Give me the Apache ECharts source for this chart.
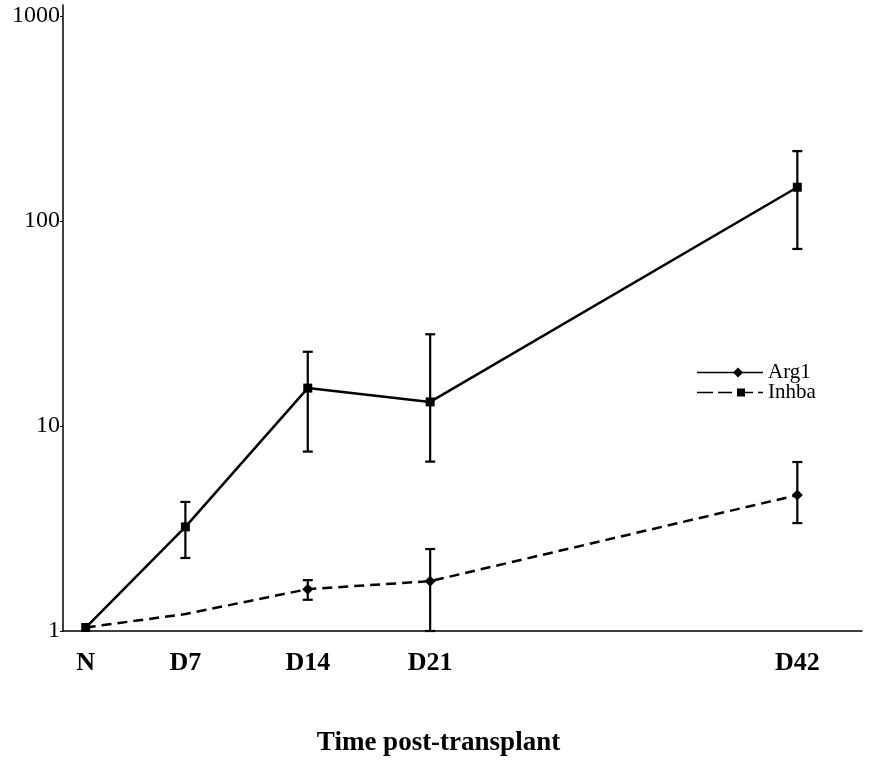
<!DOCTYPE html>
<html>
<head>
<meta charset="utf-8">
<script src="https://cdn.jsdelivr.net/npm/echarts@6/dist/echarts.min.js"></script>
<style>
  html, body { margin: 0; padding: 0; background: #fff; }
  #chart { width: 876px; height: 766px; }
</style>
</head>
<body>
<div id="chart"></div>
<script>
// Time points (days post-transplant; N = normal, placed just after day 0)
const days = [1.3, 7, 14, 21, 42];
const dayLabels = ['N', 'D7', 'D14', 'D21', 'D42'];

// Arg1 fold change (solid line) with error range
const arg1Mean = [1.04, 3.22, 15.3, 13.1, 146];
const arg1Low  = [null, 2.27, 7.5, 6.7, 73];
const arg1High = [null, 4.26, 23, 28, 219];

// Inhba fold change (dashed line) with error range
const inhbaMean = [1.04, 1.21, 1.60, 1.75, 4.6];
const inhbaLow  = [null, null, 1.42, 1.0, 3.36];
const inhbaHigh = [null, null, 1.77, 2.51, 6.67];

const yTicks = [1, 10, 100, 1000];

const serif = 'Liberation Serif';

function pairs(xs, ys) { return xs.map((x, i) => [x, ys[i]]); }
function ranges(xs, lo, hi) {
  const out = [];
  xs.forEach((x, i) => { if (lo[i] != null && hi[i] != null) out.push([x, lo[i], hi[i]]); });
  return out;
}

// vertical error bar with flat caps
function errorBar(params, api) {
  const x = api.value(0);
  const lo = api.coord([x, api.value(1)]);
  const hi = api.coord([x, api.value(2)]);
  const half = 5;
  const style = { stroke: '#000', lineWidth: 2.2, fill: null };
  return {
    type: 'group',
    children: [
      { type: 'line', shape: { x1: lo[0], y1: lo[1], x2: hi[0], y2: hi[1] }, style },
      { type: 'line', shape: { x1: hi[0] - half, y1: hi[1], x2: hi[0] + half, y2: hi[1] }, style },
      { type: 'line', shape: { x1: lo[0] - half, y1: lo[1], x2: lo[0] + half, y2: lo[1] }, style }
    ]
  };
}

// legend keys: solid line with diamond, dashed line with square
const arg1Icon = 'path://M0,4.3 L66,4.3 L66,5.7 L0,5.7 Z M36,5 L41,0 L46,5 L41,10 Z';
const inhbaIcon = 'path://M0,4.2 L16,4.2 L16,5.8 L0,5.8 Z M21,4.2 L35,4.2 L35,5.8 L21,5.8 Z ' +
  'M40,1 L48,1 L48,9 L40,9 Z M48,4.2 L56,4.2 L56,5.8 L48,5.8 Z M61,4.2 L66,4.2 L66,5.8 L61,5.8 Z';

const chart = echarts.init(document.getElementById('chart'), null, { renderer: 'canvas' });

chart.setOption({
  backgroundColor: '#fff',
  animation: false,
  grid: { left: 63, right: 14, top: 5, bottom: 135, containLabel: false },
  legend: {
    left: 692,
    top: 357,
    orient: 'vertical',
    itemWidth: 66,
    itemHeight: 10,
    itemGap: -1,
    textStyle: { fontFamily: serif, fontSize: 21, color: '#000' },
    data: [
      { name: 'Arg1', icon: arg1Icon, itemStyle: { color: '#000' } },
      { name: 'Inhba', icon: inhbaIcon, itemStyle: { color: '#000' } }
    ]
  },
  xAxis: {
    type: 'value',
    min: 0,
    max: 45.7,
    splitLine: { show: false },
    axisLine: { show: true, lineStyle: { color: '#000', width: 1.5 } },
    axisTick: { show: false },
    axisLabel: {
      customValues: days,
      formatter: (v) => dayLabels[days.indexOf(v)] ?? '',
      margin: 19,
      fontFamily: serif,
      fontWeight: 'bold',
      fontSize: 26,
      color: '#000'
    },
    name: 'Time post-transplant',
    nameLocation: 'middle',
    nameGap: 99,
    nameTextStyle: { fontFamily: serif, fontWeight: 'bold', fontSize: 27, color: '#000', padding: [0, 48, 0, 0] }
  },
  yAxis: {
    type: 'log',
    logBase: 10,
    min: 1,
    max: 1130,
    splitLine: { show: false },
    axisLine: { show: true, lineStyle: { color: '#000', width: 1.5 } },
    axisTick: { show: true, length: 3, customValues: yTicks, lineStyle: { color: '#000' } },
    axisLabel: {
      customValues: yTicks,
      formatter: (v) => String(Math.round(v)),
      margin: 3,
      fontFamily: serif,
      fontSize: 24,
      color: '#000'
    }
  },
  series: [
    {
      name: 'Arg1',
      type: 'line',
      data: pairs(days, arg1Mean),
      symbol: 'rect',
      symbolSize: 9,
      showSymbol: true,
      itemStyle: { color: '#000' },
      lineStyle: { color: '#000', width: 2.5 },
      z: 3
    },
    {
      name: 'Inhba',
      type: 'line',
      data: pairs(days, inhbaMean).map((p, i) => (i <= 1 ? { value: p, symbol: 'none' } : { value: p })),
      symbol: 'diamond',
      symbolSize: 11,
      itemStyle: { color: '#000' },
      lineStyle: { color: '#000', width: 2.5, type: [10, 6] },
      z: 3
    },
    {
      name: 'Arg1 error',
      type: 'custom',
      renderItem: errorBar,
      data: ranges(days, arg1Low, arg1High),
      encode: { x: 0, y: [1, 2] },
      z: 2
    },
    {
      name: 'Inhba error',
      type: 'custom',
      renderItem: errorBar,
      data: ranges(days, inhbaLow, inhbaHigh),
      encode: { x: 0, y: [1, 2] },
      z: 2
    }
  ]
});
</script>
</body>
</html>
